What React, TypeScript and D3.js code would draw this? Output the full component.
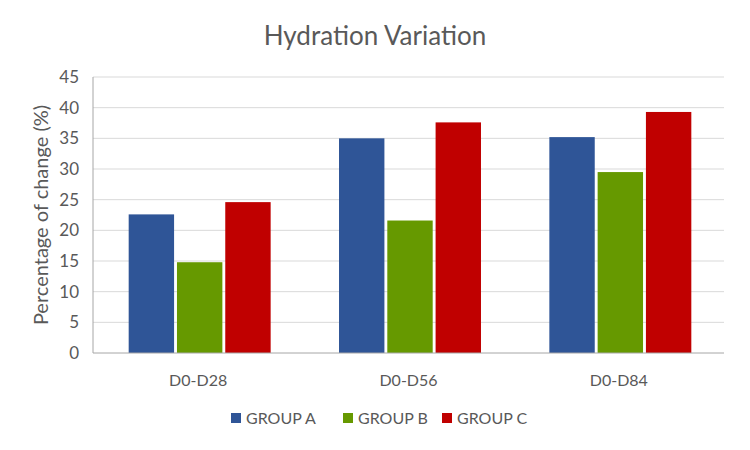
import React from "react";
import * as d3 from "d3";

const categories = ["D0-D28", "D0-D56", "D0-D84"];
const seriesNames = ["GROUP A", "GROUP B", "GROUP C"];
const groupA = [22.6, 35.0, 35.2];
const groupB = [14.8, 21.6, 29.5];
const groupC = [24.6, 37.6, 39.3];
const seriesColors = ["#2F5597", "#669900", "#C00000"];
const yTicks = [0, 5, 10, 15, 20, 25, 30, 35, 40, 45];

const W = 750, H = 450;
const left = 93, right = 724, top = 77, bottom = 353;
const FONT = "Lato, 'Open Sans', sans-serif";

export default function App() {
  const series = [groupA, groupB, groupC];
  const x = d3.scaleBand().domain(categories).range([left, right]).paddingInner(0).paddingOuter(0);
  const groupW = x.bandwidth() * 0.675;
  const x1 = d3.scaleBand().domain(seriesNames).range([0, groupW]).paddingInner(0.06).paddingOuter(0);
  const y = d3.scaleLinear().domain([0, 45]).range([bottom, top]);
  const legendX = [231, 343, 442];

  return (
    <svg width={W} height={H} style={{ position: "absolute", left: 0, top: 0, background: "#fff" }}>
      <rect x={0} y={0} width={W} height={H} fill="#fff" />
      <text x={375} y={45} textAnchor="middle" fontFamily={FONT} fontSize={26} fill="#595959">
        Hydration Variation
      </text>
      {yTicks.map((t) => (
        <g key={t}>
          {t > 0 && (
            <line x1={left} x2={right} y1={y(t)} y2={y(t)} stroke="#d9d9d9" strokeWidth={1} />
          )}
          <text x={79} y={y(t) + 6} textAnchor="end" fontFamily={FONT} fontSize={17} fill="#595959">
            {t}
          </text>
        </g>
      ))}
      <text
        transform={`translate(48, ${(top + bottom) / 2}) rotate(-90)`}
        textAnchor="middle"
        fontFamily={FONT}
        fontSize={20}
        fill="#595959"
      >
        Percentage of change (%)
      </text>
      {categories.map((c, i) => (
        <g key={c}>
          {series.map((s, j) => {
            const bx = (x(c) as number) + (x.bandwidth() - groupW) / 2 + 1.5 + (x1(seriesNames[j]) as number);
            return (
              <rect
                key={j}
                x={bx}
                y={y(s[i])}
                width={x1.bandwidth()}
                height={y(0) - y(s[i])}
                fill={seriesColors[j]}
              />
            );
          })}
          <text
            x={(x(c) as number) + x.bandwidth() / 2}
            y={386}
            textAnchor="middle"
            fontFamily={FONT}
            fontSize={16}
            fill="#595959"
          >
            {c}
          </text>
        </g>
      ))}
      <line x1={left} x2={left} y1={top} y2={bottom} stroke="#a6a6a6" strokeWidth={1} />
      <line x1={left} x2={right} y1={bottom} y2={bottom} stroke="#a6a6a6" strokeWidth={1} />
      {seriesNames.map((n, j) => (
        <g key={n}>
          <rect x={legendX[j]} y={413} width={10} height={10} fill={seriesColors[j]} />
          <text x={legendX[j] + 15} y={424} fontFamily={FONT} fontSize={16} fill="#595959">
            {n}
          </text>
        </g>
      ))}
    </svg>
  );
}
